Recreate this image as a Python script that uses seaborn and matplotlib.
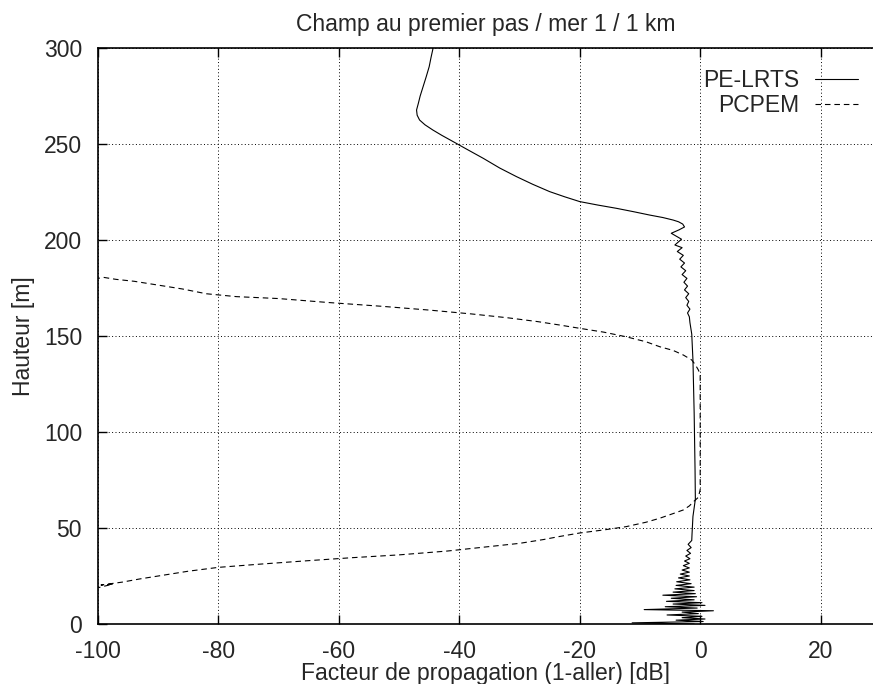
import matplotlib
matplotlib.use("Agg")
import matplotlib.pyplot as plt
import seaborn as sns
import pandas as pd

# PE-LRTS profile (height [m], factor [dB])
lrts_h = [0.0, 0.6, 1.3, 2.0, 2.6, 3.3, 4.0, 4.7, 5.4, 6.2, 6.9, 7.5, 8.3, 9.0,
          9.7, 10.4, 11.1, 11.8, 12.6, 13.4, 14.2, 15.0, 15.8, 16.6, 17.4, 18.3,
          19.2, 20.1, 21.0, 22.0, 23.0, 24.0, 25.0, 26.0, 27.0, 28.1, 29.2, 30.4,
          31.6, 32.8, 34.0, 35.4, 36.8, 38.3, 39.8, 41.5, 43.5, 47.0, 56.0, 65.0,
          80.0, 110.0, 137.5, 151.0, 157.0, 160.0, 162.0, 164.0, 166.0, 168.0,
          170.0, 172.0, 174.0, 176.0, 178.0, 180.0, 182.0, 184.0, 186.0, 188.0,
          190.0, 192.0, 194.0, 196.0, 197.4, 200.4, 203.5, 205.3, 206.8, 208.3,
          209.5, 210.4, 211.7, 213.0, 214.7, 216.5, 218.2, 220.0, 222.5, 225.2,
          229.0, 233.0, 237.5, 242.5, 247.0, 251.2, 254.5, 257.3, 260.0, 262.5,
          265.0, 267.7, 271.2, 275.0, 280.0, 285.0, 290.3, 295.0, 300.0]
lrts_db = [-1.0, -11.3, 0.5, -4.0, 0.8, -3.0, 0.3, -5.5, -0.3, -3.0, 2.2, -9.3,
           -0.5, -5.8, 0.8, -4.5, 0.3, -5.6, -1.0, -4.8, -0.6, -6.2, -0.8, -4.5,
           -1.0, -4.2, -1.0, -4.0, -1.5, -3.9, -1.7, -3.6, -1.8, -3.3, -1.8, -3.0,
           -1.8, -2.8, -1.8, -2.6, -1.7, -2.4, -1.6, -2.2, -1.5, -2.0, -1.4,
           -1.35, -1.2, -0.8, -0.85, -1.0, -1.2, -1.4, -1.7, -1.8, -2.1, -1.7,
           -2.2, -1.9, -2.4, -1.9, -2.6, -2.1, -2.7, -2.2, -3.0, -2.4, -3.2, -2.6,
           -3.4, -2.8, -3.8, -3.0, -4.2, -3.1, -4.8, -3.5, -2.6, -2.9, -3.6,
           -4.5, -6.2, -8.4, -11.0, -13.9, -17.0, -20.0, -22.5, -25.0, -27.8,
           -30.5, -33.3, -36.0, -38.6, -41.0, -42.9, -44.4, -45.7, -46.6, -47.0,
           -47.1, -46.8, -46.5, -46.0, -45.5, -45.0, -44.7, -44.35]

# PCPEM profile
pcpem_h = [18.5, 20.8, 20.3, 21.8, 23.5, 25.5, 27.5, 29.5, 31.2, 33.0, 34.5,
           36.0, 38.0, 40.0, 42.0, 44.0, 45.5, 47.4, 49.0, 50.7, 53.0, 55.1,
           57.5, 59.4, 61.5, 63.7, 66.0, 70.0, 100.0, 130.0, 132.3, 135.0, 137.5,
           140.1, 142.5, 144.4, 147.0, 149.6, 152.0, 154.0, 155.7, 157.5, 159.5,
           161.5, 163.5, 165.5, 167.5, 169.5, 170.5, 172.0, 174.5, 176.5, 178.5,
           179.5, 180.5, 179.8]
pcpem_db = [-100.5, -97.5, -99.5, -96.0, -93.0, -89.0, -85.0, -80.0, -73.0,
            -65.0, -58.0, -50.0, -42.0, -36.0, -30.0, -26.0, -23.5, -20.0, -16.0,
            -12.3, -9.0, -6.7, -4.5, -2.8, -1.8, -1.1, -0.3, 0.0, 0.0, 0.0, -0.3,
            -0.8, -1.4, -2.8, -4.5, -6.7, -9.0, -12.3, -16.0, -20.0, -23.3, -27.0,
            -32.0, -38.0, -45.0, -53.0, -62.0, -70.0, -77.0, -82.0, -86.0, -90.0,
            -94.0, -97.0, -99.0, -100.5]

x_ticks = [-100, -80, -60, -40, -20, 0, 20]
y_ticks = [0, 50, 100, 150, 200, 250, 300]

sns.set_theme(style="white")
plt.rcParams['font.family'] = ['Liberation Sans', 'DejaVu Sans']
plt.rcParams['axes.unicode_minus'] = False
fs = 16.5

fig = plt.figure(figsize=(8.73, 6.84), dpi=100)
ax = fig.add_axes([98 / 873, 60 / 684, 775 / 873, 576 / 684])

lrts = pd.DataFrame({'dB': lrts_db, 'h': lrts_h})
pcpem = pd.DataFrame({'dB': pcpem_db, 'h': pcpem_h})

sns.lineplot(data=lrts, x='dB', y='h', sort=False, estimator=None, ax=ax,
             color='black', lw=0.8, label='PE-LRTS')
sns.lineplot(data=pcpem, x='dB', y='h', sort=False, estimator=None, ax=ax,
             color='black', lw=0.8, label='PCPEM')
ax.lines[1].set_linestyle((0, (5, 3.5)))

ax.set_xlim(-100, 28.7)
ax.set_ylim(0, 300)
ax.set_xticks(x_ticks)
ax.set_yticks(y_ticks)
ax.grid(True, color='black', lw=0.7, linestyle=(0, (1, 2.5)))

for s in ['left', 'bottom', 'top']:
    ax.spines[s].set_color('black')
    ax.spines[s].set_linewidth(1.2)
ax.spines['right'].set_visible(False)

ax.tick_params(direction='in', length=6.5, width=1.0, color='black',
               labelsize=fs, pad=11.5, top=True, bottom=True, left=True)

ax.set_xlabel('Facteur de propagation (1-aller) [dB]', fontsize=fs, labelpad=-1)
ax.set_ylabel('Hauteur [m]', fontsize=fs, labelpad=6)
ax.set_title('Champ au premier pas / mer 1 / 1 km', fontsize=fs, pad=12)

ax.legend(loc='upper right', bbox_to_anchor=((858 - 98) / 775, (624 - 69) / 576),
          frameon=False, markerfirst=False, fontsize=fs, handlelength=1.88,
          handletextpad=0.7, labelspacing=0.1, borderpad=0, borderaxespad=0)

fig.savefig('out.png', dpi=100)
